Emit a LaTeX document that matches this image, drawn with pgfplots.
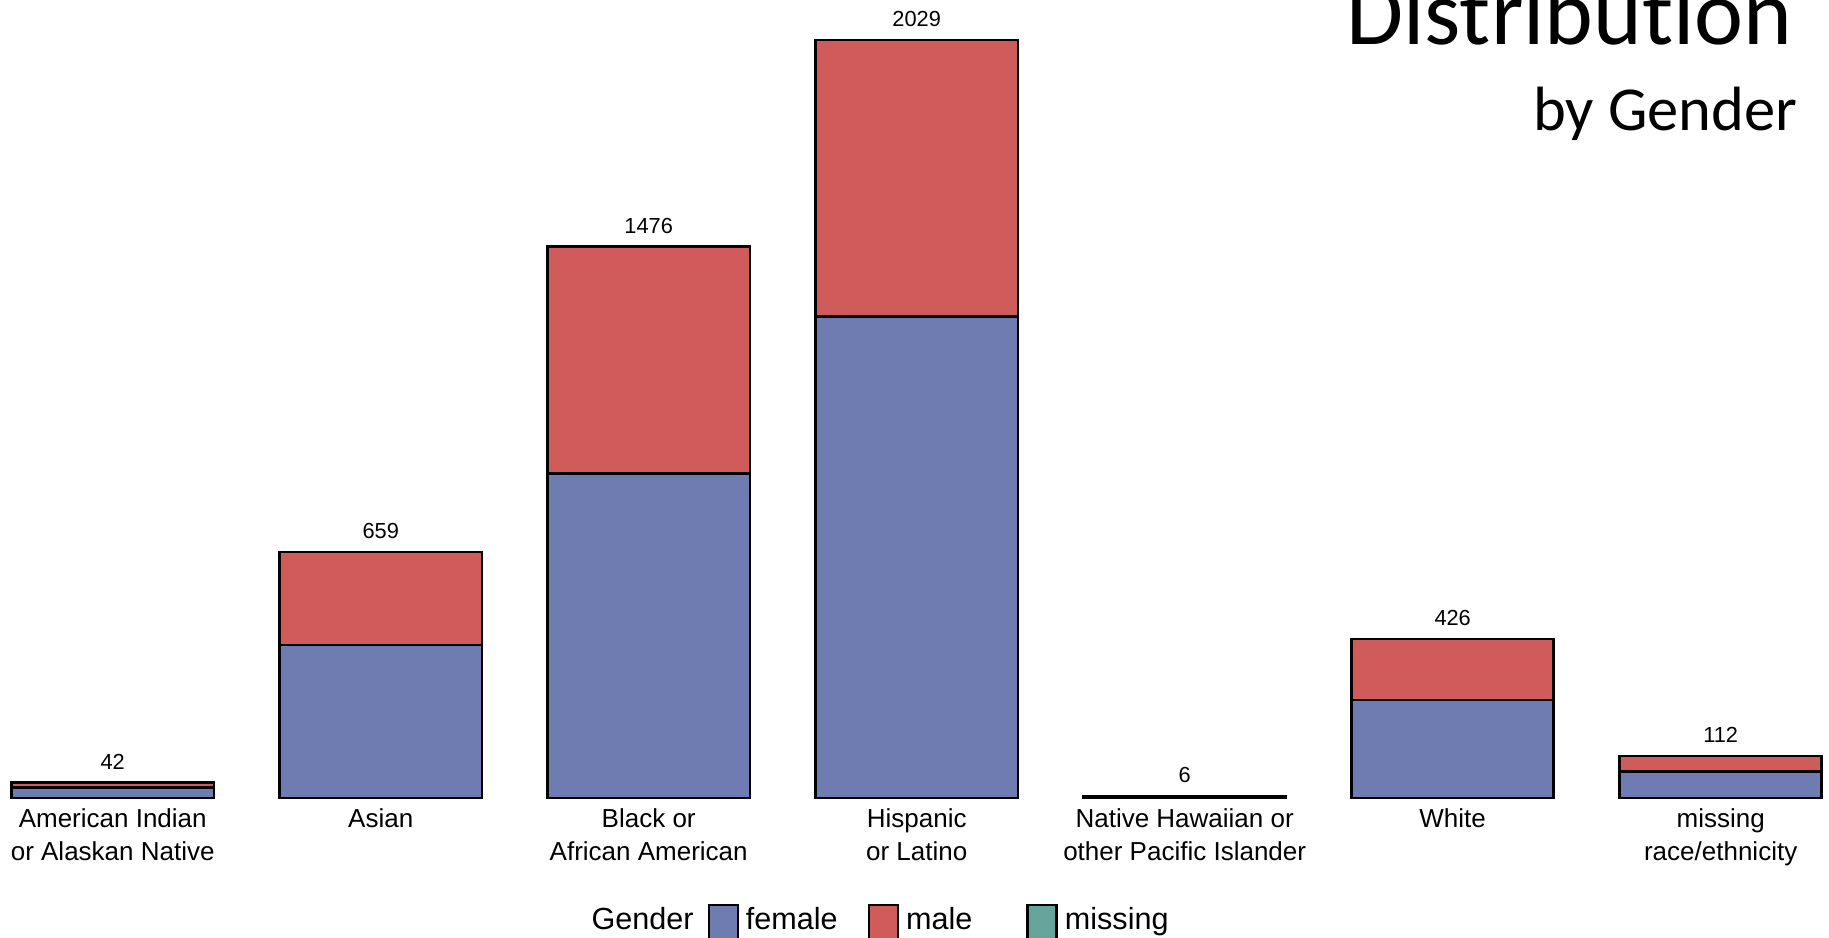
\documentclass[border=0pt]{standalone}
\usepackage{pgfplots}
\pgfplotsset{compat=1.18}
\usepackage{fontspec}
\setmainfont{Liberation Sans}
\newfontfamily\titlefont[Ligatures=NoCommon]{Carlito}
\definecolor{femcol}{RGB}{110,124,178}
\definecolor{malecol}{RGB}{208,91,91}
\definecolor{misscol}{RGB}{102,165,156}
\begin{document}
\begin{tikzpicture}
\path[use as bounding box] (0,0) rectangle (182.9mm,93.7mm);
\begin{axis}[
  at={(0.82mm,13.9mm)}, anchor=south west,
  scale only axis, width=181.7mm, height=79.8mm,
  xmin=-0.39, xmax=6.39, ymin=0, ymax=2136,
  ybar stacked, bar width=0.754,
  axis line style={draw=none}, tick style={draw=none},
  ytick=\empty,
  xtick={0,1,2,3,4,5,6},
  xticklabels={{American Indian\\or Alaskan Native},{Asian},{Black or\\African American},{Hispanic\\or Latino},{Native Hawaiian or\\other Pacific Islander},{White},{missing\\race/ethnicity}},
  xticklabel style={align=center, font=\fontsize{7.4}{9.4}\selectfont, inner sep=0pt, yshift=-1.0mm},
  every axis plot/.append style={draw=black, line width=0.7pt},
  legend image code/.code={\draw[#1,draw=black,line width=0.7pt] (0cm,-1.1mm) rectangle (2.9mm,2.4mm);},
  legend columns=-1,
  legend style={at={(0.3168,-0.1805)}, anchor=south west, draw=none, fill=none, inner sep=0pt,
    font=\fontsize{8.7}{10}\selectfont,
    nodes={inner sep=0pt, text depth=0pt},
    cells={anchor=base west},
    /tikz/every odd column/.append style={column sep=0.7mm},
    /tikz/column 2/.style={column sep=1.4mm},
    /tikz/column 4/.style={column sep=3.0mm},
    /tikz/column 6/.style={column sep=5.4mm}},
]
\addlegendimage{empty legend}
\addlegendentry{Gender}
\addplot[fill=femcol] coordinates {(0,28) (1,410) (2,868) (3,1289) (4,4) (5,263) (6,71)};
\addlegendentry{female}
\addplot[fill=malecol, nodes near coords, point meta=explicit symbolic,
  visualization depends on={rawy \as \segh},
  every node near coord/.append style={font=\fontsize{6.2}{7}\selectfont, anchor=south, inner sep=0pt, yshift={\segh*0.01868mm+1.2mm}, text=black}]
  coordinates {(0,14) [42] (1,249) [659] (2,608) [1476] (3,740) [2029] (4,2) [6] (5,163) [426] (6,41) [112]};
\addlegendentry{male}
\addlegendimage{fill=misscol}
\addlegendentry{missing}
\end{axis}
\node[anchor=base east, font=\titlefont\fontsize{26.4}{30}\selectfont, inner sep=0pt] at (179.3mm,89.3mm) {Distribution};
\node[anchor=base east, font=\titlefont\fontsize{17.8}{20}\selectfont, inner sep=0pt] at (179.8mm,80.7mm) {by Gender};
\end{tikzpicture}
\end{document}
